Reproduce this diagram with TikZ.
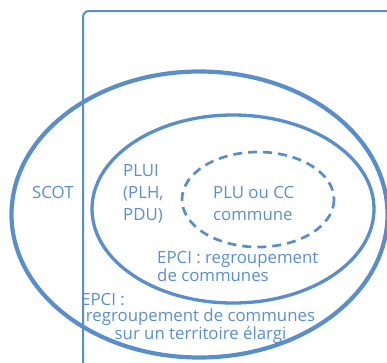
\documentclass[tikz,border=0pt]{standalone}
\usepackage{fontspec}
\setmainfont{Open Sans}
\definecolor{lineblue}{HTML}{5A8ECB}
\definecolor{textblue}{HTML}{5B8ECF}
\begin{document}
\begin{tikzpicture}[x=1pt,y=-1pt,
  lbl/.style={text=textblue, inner sep=0pt, font=\fontsize{16.8}{22}\selectfont, align=left},
  lbltight/.style={text=textblue, inner sep=0pt, font=\fontsize{16.8}{12.5}\selectfont},
  lblmid/.style={text=textblue, inner sep=0pt, font=\fontsize{16.8}{16}\selectfont}]
\useasboundingbox (0,0) rectangle (387,362);
\clip (0,0) rectangle (387,362);
% frame
\draw[lineblue, line width=2pt, rounded corners=6pt] (83,400) -- (83,11) -- (420,11);
% ellipses
\draw[lineblue, line width=4.2pt] (199.5,214.5) ellipse [x radius=188, y radius=143];
\draw[lineblue, line width=3.3pt] (233,209) ellipse [x radius=141, y radius=94];
\draw[lineblue, line width=2.7pt, dash pattern=on 9pt off 6pt] (258,199.5) ellipse [x radius=76, y radius=47.5];
% texts
\node[lbl, anchor=base west] (scot) at (32,198.3) {SCOT};
\node[lbl, anchor=base west] (plui) at (123,220) {PLUI\\(PLH,\\PDU)};
\node[lbl, anchor=base west] (plu) at (213,220) {PLU ou CC\\commune};
\node[lbltight, anchor=base west, align=left] (epcia) at (157,281.5) {EPCI : regroupement\\de communes};
\node[lblmid, anchor=base west, text depth=0pt] (epcib) at (81,305.5) {EPCI :};
\node[lblmid, anchor=base, align=center] (regb) at (200.5,339) {regroupement de communes\\sur un territoire élargi};
\end{tikzpicture}
\end{document}
